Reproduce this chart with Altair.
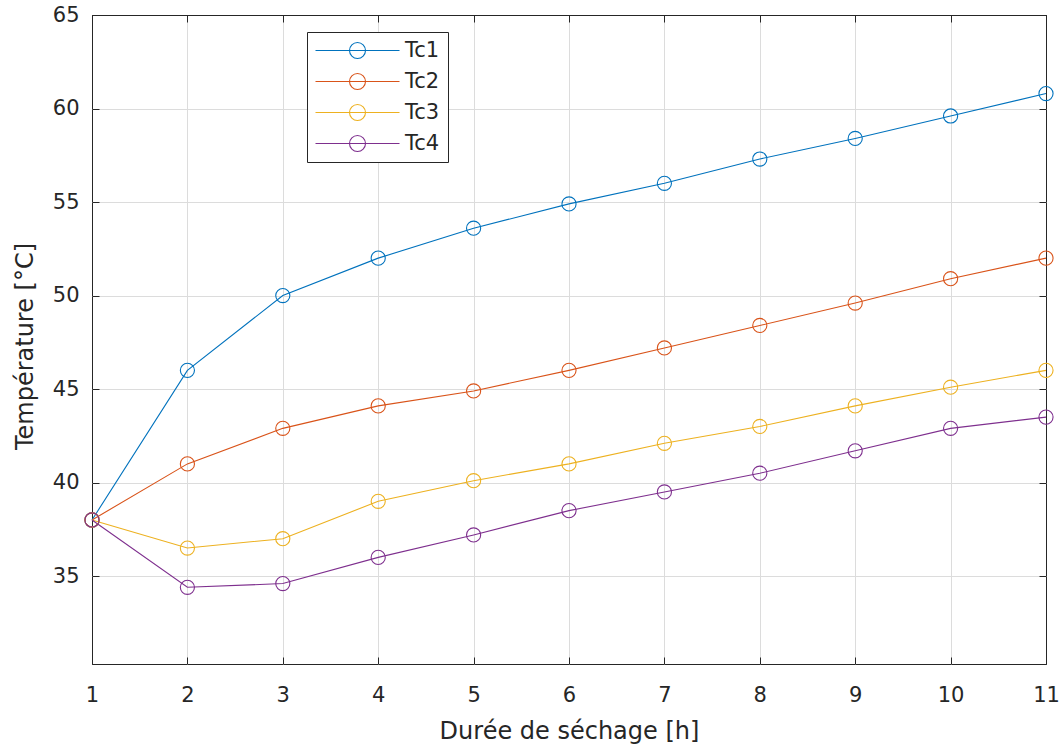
import altair as alt
import pandas as pd

# ---- data ----
hours = [1, 2, 3, 4, 5, 6, 7, 8, 9, 10, 11]
tc1 = [38.0, 46.0, 50.0, 52.0, 53.6, 54.9, 56.0, 57.3, 58.4, 59.6, 60.8]
tc2 = [38.0, 41.0, 42.9, 44.1, 44.9, 46.0, 47.2, 48.4, 49.6, 50.9, 52.0]
tc3 = [38.0, 36.5, 37.0, 39.0, 40.1, 41.0, 42.1, 43.0, 44.1, 45.1, 46.0]
tc4 = [38.0, 34.4, 34.6, 36.0, 37.2, 38.5, 39.5, 40.5, 41.7, 42.9, 43.5]
series_names = ["Tc1", "Tc2", "Tc3", "Tc4"]
colors = ["#0072BD", "#D95319", "#EDB120", "#7E2F8E"]
x_ticks = [1, 2, 3, 4, 5, 6, 7, 8, 9, 10, 11]
y_ticks = [35, 40, 45, 50, 55, 60, 65]

rows = []
for name, vals in zip(series_names, [tc1, tc2, tc3, tc4]):
    for h, v in zip(hours, vals):
        rows.append({"hours": h, "temp": v, "series": name})
df = pd.DataFrame(rows)

FONT = "DejaVu Sans"
TXT = "#262626"
GRID = "#dcdcdc"

x_scale = alt.Scale(domain=[1, 11], nice=False, zero=False)
y_scale = alt.Scale(domain=[30.3, 65], nice=False, zero=False)
color_scale = alt.Scale(domain=series_names, range=colors)

LEGEND_PATH = "M-5.25,0H5.25M1,0A1,1,0,1,1,-1,0A1,1,0,1,1,1,0"

legend = alt.Legend(
    orient="none", legendX=215, legendY=17, title=None, direction="vertical",
    symbolType=LEGEND_PATH, symbolSize=256, symbolStrokeWidth=1.1,
    symbolFillColor="transparent", symbolOpacity=1, symbolOffset=32,
    labelOffset=37, labelFont=FONT, labelFontSize=21, labelColor=TXT,
    padding=8, rowPadding=9, strokeColor=TXT, fillColor="white",
    cornerRadius=0,
)

x_grid_color = {
    "condition": {"test": "datum.value <= 1 || datum.value >= 11", "value": TXT},
    "value": GRID,
}
y_grid_color = {
    "condition": {"test": "datum.value >= 65", "value": TXT},
    "value": GRID,
}

base = alt.Chart(df)

lines = base.mark_line(strokeWidth=1.1).encode(
    x=alt.X(
        "hours:Q",
        scale=x_scale,
        axis=alt.Axis(
            orient="bottom", values=x_ticks, format="d", offset=-7, tickSize=7,
            tickColor=TXT, tickWidth=1, domain=False, grid=True,
            gridColor=x_grid_color, gridWidth=1, labelFlush=False,
            labelFont=FONT, labelFontSize=21, labelColor=TXT,
            labelPadding=20, title="Durée de séchage [h]", titleFont=FONT,
            titleFontSize=24, titleFontWeight="normal", titleColor=TXT,
            titleX=477, titleY=81, titleBaseline="alphabetic", titleAlign="center",
        ),
    ),
    y=alt.Y(
        "temp:Q",
        scale=y_scale,
        axis=alt.Axis(
            orient="left", values=y_ticks, format="d", offset=-7, tickSize=7,
            tickColor=TXT, tickWidth=1, domain=False, grid=True,
            gridColor=y_grid_color, gridWidth=1, labelFlush=False,
            labelFont=FONT, labelFontSize=21, labelColor=TXT,
            labelPadding=13, title="Température [°C]", titleFont=FONT,
            titleFontSize=24, titleFontWeight="normal", titleColor=TXT,
            titleX=-67, titleY=331, titleAngle=270, titleBaseline="alphabetic",
            titleAlign="center",
        ),
    ),
    color=alt.Color("series:N", scale=color_scale, legend=legend),
)

points = base.mark_point(
    shape="circle", filled=False, size=200, strokeWidth=1.1, opacity=1
).encode(
    x=alt.X(
        "hours:Q",
        scale=x_scale,
        axis=alt.Axis(
            orient="top", values=x_ticks, offset=-7, tickSize=7, tickColor=TXT,
            tickWidth=1, labels=False, domain=False, grid=False, title=None,
        ),
    ),
    y=alt.Y(
        "temp:Q",
        scale=y_scale,
        axis=alt.Axis(
            orient="right", values=y_ticks, offset=-7, tickSize=7, tickColor=TXT,
            tickWidth=1, labels=False, domain=False, grid=False, title=None,
        ),
    ),
    color=alt.Color("series:N", scale=color_scale, legend=legend),
)

chart = (
    alt.layer(lines, points)
    .resolve_axis(x="independent", y="independent")
    .properties(
        width=954,
        height=649,
        padding={"left": 92, "top": 15, "right": 17, "bottom": 83},
        autosize=alt.AutoSizeParams(type="none"),
        background="white",
    )
    .configure_view(stroke=TXT, strokeWidth=1)
)

chart.save("out.html", embed_options={"renderer": "svg", "actions": False})
